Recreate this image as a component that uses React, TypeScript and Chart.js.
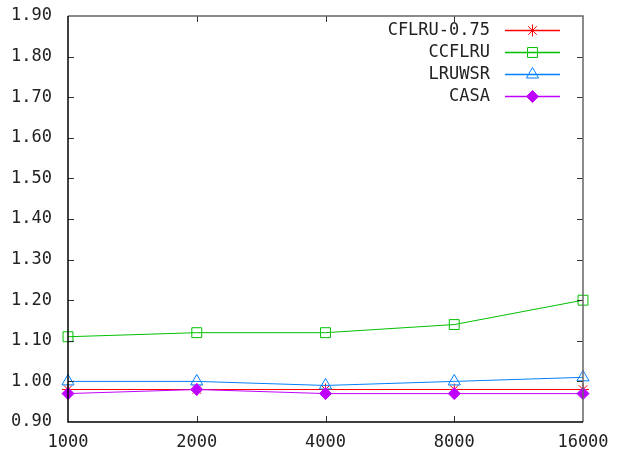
import React, { useEffect, useRef } from "react";
import { Chart, registerables } from "chart.js";
import { drawPoint } from "chart.js/helpers";

Chart.register(...registerables);

const categories = ["1000", "2000", "4000", "8000", "16000"];
const cflru075 = [0.98, 0.98, 0.98, 0.98, 0.98];
const ccflru = [1.11, 1.12, 1.12, 1.14, 1.2];
const lruwsr = [1.0, 1.0, 0.99, 1.0, 1.01];
const casa = [0.97, 0.98, 0.97, 0.97, 0.97];
const yMin = 0.9;
const yMax = 1.9;
const yStep = 0.1;

const FONT = "'DejaVu Sans Mono', monospace";

const gnuPlugin = {
  id: "gnuFrame",
  afterDatasetsDraw(chart: any) {
    const { ctx, chartArea } = chart;
    const { left, right, top, bottom } = chartArea;
    const xs = chart.scales.x;
    const ys = chart.scales.y;
    ctx.save();
    ctx.lineWidth = 1;
    ctx.strokeStyle = "#333";
    ctx.beginPath();
    ys.ticks.forEach((t: any) => {
      const y = Math.round(ys.getPixelForValue(t.value)) + 0.5;
      if (Math.abs(y - top) < 2 || Math.abs(y - bottom) < 2) return;
      ctx.moveTo(left, y);
      ctx.lineTo(left + 6, y);
      ctx.moveTo(right, y);
      ctx.lineTo(right - 6, y);
    });
    categories.forEach((_, i) => {
      const x = Math.round(xs.getPixelForValue(i)) + 0.5;
      if (Math.abs(x - left) < 2 || Math.abs(x - right) < 2) return;
      ctx.moveTo(x, bottom);
      ctx.lineTo(x, bottom - 6);
      ctx.moveTo(x, top);
      ctx.lineTo(x, top + 6);
    });
    ctx.stroke();
    ctx.strokeStyle = "#666";
    ctx.lineWidth = 1.5;
    ctx.beginPath();
    ctx.moveTo(left, top);
    ctx.lineTo(right, top);
    ctx.lineTo(right, bottom);
    ctx.stroke();
    ctx.strokeStyle = "#000";
    ctx.beginPath();
    ctx.moveTo(left, top);
    ctx.lineTo(left, bottom);
    ctx.lineTo(right, bottom);
    ctx.stroke();
    ctx.restore();
  },
  afterDraw(chart: any) {
    const { ctx, chartArea } = chart;
    ctx.save();
    ctx.font = `17px ${FONT}`;
    ctx.textAlign = "right";
    ctx.textBaseline = "middle";
    const textRight = chartArea.right - 93;
    const lineStart = chartArea.right - 78;
    const lineEnd = chartArea.right - 23;
    chart.data.datasets.forEach((ds: any, i: number) => {
      const y = chartArea.top + 14.5 + i * 22;
      ctx.fillStyle = "#222";
      ctx.fillText(ds.label, textRight, y);
      ctx.strokeStyle = ds.borderColor;
      ctx.lineWidth = 1.5;
      ctx.beginPath();
      ctx.moveTo(lineStart, y);
      ctx.lineTo(lineEnd, y);
      ctx.stroke();
      ctx.fillStyle = ds.pointBackgroundColor;
      ctx.strokeStyle = ds.borderColor;
      ctx.lineWidth = 1;
      drawPoint(
        ctx,
        { pointStyle: ds.pointStyle, rotation: 0, borderWidth: 1, radius: ds.pointRadius },
        (lineStart + lineEnd) / 2,
        y
      );
    });
    ctx.restore();
  },
};

export default function App() {
  const ref = useRef<HTMLCanvasElement>(null);
  useEffect(() => {
    document.body.style.margin = "0";
    const mk = (label: string, data: number[], color: string, style: string, radius: number, fill: boolean, order: number) => ({
      label,
      data,
      borderColor: color,
      backgroundColor: color,
      pointBackgroundColor: fill ? color : "rgba(0,0,0,0)",
      pointBorderColor: color,
      pointStyle: style,
      pointRadius: radius,
      pointBorderWidth: 1,
      borderWidth: 1,
      tension: 0,
      order,
    });
    const datasets = [
      mk("CFLRU-0.75", cflru075, "#ff0000", "star", 6, false, 4),
      mk("CCFLRU", ccflru, "#00c000", "rect", 7, false, 3),
      mk("LRUWSR", lruwsr, "#0080ff", "triangle", 7, false, 2),
      mk("CASA", casa, "#c000ff", "rectRot", 6, true, 1),
    ];
    const chart = new Chart(ref.current!, {
      type: "line",
      data: { labels: categories, datasets },
      options: {
        responsive: false,
        animation: false,
        layout: { padding: { left: 0, top: 16, right: 36, bottom: 0 } },
        plugins: { legend: { display: false }, tooltip: { enabled: false } },
        scales: {
          x: {
            type: "category",
            offset: false,
            grid: { display: false, drawTicks: false },
            border: { display: false },
            afterFit: (s: any) => {
              s.height = 32;
              s.paddingLeft = 0;
              s.paddingRight = 0;
            },
            ticks: {
              color: "#222",
              font: { family: FONT, size: 17 },
              padding: 10,
              maxRotation: 0,
            },
          },
          y: {
            type: "linear",
            min: yMin,
            max: yMax,
            grid: { display: false, drawTicks: false },
            border: { display: false },
            afterFit: (s: any) => {
              s.width = 68;
              s.paddingTop = 0;
              s.paddingBottom = 0;
            },
            ticks: {
              stepSize: yStep,
              color: "#222",
              font: { family: FONT, size: 17 },
              padding: 16,
              callback: (v: any) => Number(v).toFixed(2),
            },
          },
        },
      },
      plugins: [gnuPlugin],
    });
    return () => chart.destroy();
  }, []);
  return <canvas ref={ref} width={619} height={454} style={{ display: "block" }} />;
}
